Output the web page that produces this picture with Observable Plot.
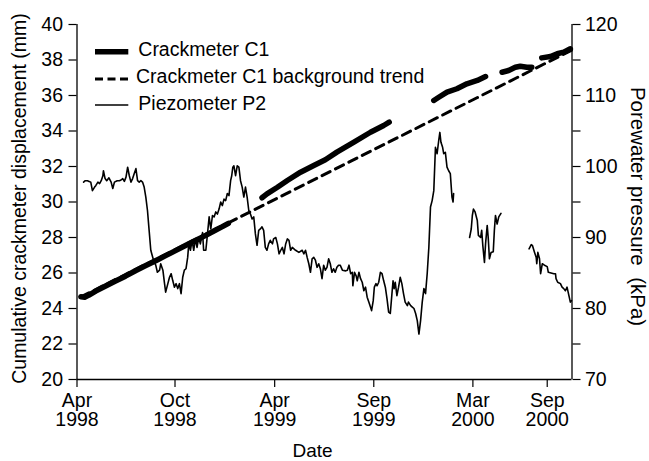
<!DOCTYPE html>
<html>
<head>
<meta charset="utf-8">
<script src="https://cdn.jsdelivr.net/npm/d3@7"></script>
<script src="https://cdn.jsdelivr.net/npm/@observablehq/plot@0.6"></script>
<style>
  html, body { margin: 0; padding: 0; background: #fff; }
  #chart { width: 649px; height: 461px; }
</style>
</head>
<body>
<div id="chart"></div>
<script>
// ---------- DATA ----------
// x values are days since 1 April 1998
const startDay = "1998-04-01";
const xEndDay = 899;
const tickDays = [0, 178, 359, 539, 719, 854];
const tickLabels = ["Apr\n1998", "Oct\n1998", "Apr\n1999", "Sep\n1999", "Mar\n2000", "Sep\n2000"];
const leftTicks = [20, 22, 24, 26, 28, 30, 32, 34, 36, 38, 40];
const rightTicks = [70, 75, 80, 85, 90, 95, 100, 105, 110, 115, 120];
const rightTickLabels = [70, 80, 90, 100, 110, 120];
const legendLabels = ["Crackmeter C1", "Crackmeter C1 background trend", "Piezometer P2"];
const xTitle = "Date";
const leftTitle = "Cumulative crackmeter displacement (mm)";
const rightTitle = "Porewater pressure  (kPa)";

// Crackmeter C1 (mm), segments [day, mm]
const c1Seg1 = [[7,24.66],[14,24.64],[21,24.74],[34,24.98],[52,25.27],[70,25.55],[88,25.82],[107,26.14],[125,26.42],[143,26.69],[161,26.98],[179,27.26],[197,27.55],[215,27.83],[234,28.12],[252,28.42],[264,28.61],[275,28.80]];
const c1Seg2 = [[336,30.24],[345,30.46],[364,30.83],[382,31.21],[406,31.68],[430,32.06],[451,32.38],[472,32.81],[503,33.37],[533,33.93],[557,34.31],[567,34.50]];
const c1Seg3 = [[648,35.72],[657,35.90],[672,36.19],[690,36.38],[708,36.66],[727,36.85],[742,37.07]];
const c1Seg4 = [[772,37.31],[784,37.41],[796,37.59],[805,37.65],[817,37.59],[826,37.59]];
const c1Seg5 = [[844,38.12],[860,38.20],[872,38.35],[884,38.44],[896,38.63]];

// Crackmeter C1 background trend (mm)
const trendPts = [[7,24.65],[898,38.55]];

// Piezometer P2 (kPa), segments [day, kPa]
const p2Seg1 = [[12,97.8],[15,98.0],[19,98.0],[22,97.9],[25,97.8],[28,96.6],[32,97.1],[34,97.3],[38,97.8],[41,97.6],[44,98.0],[47,98.7],[48,99.4],[51,98.3],[54,98.0],[58,98.4],[62,97.8],[65,96.9],[68,97.8],[73,98.0],[77,98.0],[80,98.1],[83,98.3],[86,97.9],[89,98.5],[92,99.9],[95,98.7],[98,97.8],[101,98.3],[104,99.0],[107,99.7],[110,98.0],[113,97.8],[116,98.0],[119,97.8],[122,97.1],[125,95.7],[128,93.8],[131,91.0],[134,88.2],[139,86.8],[143,86.1],[146,85.1],[150,85.4],[152,86.3],[156,85.4],[159,83.5],[161,82.3],[165,83.5],[168,84.4],[171,84.9],[174,83.9],[177,83.0],[180,83.5],[183,82.8],[186,83.5],[189,82.1],[192,84.4],[195,85.4],[198,85.6],[201,87.2],[203,89.1],[206,88.2],[209,89.6],[212,88.2],[215,89.8],[218,88.6],[221,90.0],[224,89.1],[228,90.7],[230,88.2],[234,88.2],[237,90.5],[240,92.9],[243,91.2],[246,93.1],[249,92.9],[252,93.6],[255,93.3],[258,94.0],[261,95.0],[264,94.5],[267,95.4],[270,95.2],[273,96.2],[276,95.9],[279,98.0],[281,98.7],[283,99.9],[285,100.1],[288,98.7],[291,100.1],[294,99.9],[297,98.0],[300,97.1],[303,95.7],[306,97.1],[309,95.7],[312,93.8],[315,93.3],[318,92.6],[321,92.9],[324,90.5],[327,88.9],[330,91.0],[333,91.2],[336,91.5],[339,91.0],[342,88.6],[345,88.2],[348,89.1],[351,89.6],[355,89.1],[357,89.8],[361,90.0],[364,89.1],[367,87.7],[370,88.2],[373,88.6],[376,87.7],[379,89.1],[382,89.8],[385,89.6],[388,88.2],[391,88.6],[397,88.2],[403,87.9],[409,88.2],[412,87.7],[415,88.2],[418,87.2],[421,86.3],[424,85.1],[427,87.0],[430,87.2],[433,86.8],[436,85.8],[439,86.3],[442,85.6],[445,84.2],[448,86.1],[451,85.4],[454,85.8],[457,87.0],[460,86.3],[463,85.1],[466,85.6],[469,85.1],[472,85.8],[475,86.1],[478,86.1],[482,85.4],[488,85.3],[491,85.4],[494,86.1],[497,84.9],[500,85.1],[501,83.2],[504,85.1],[507,84.6],[509,83.9],[512,85.1],[515,84.2],[518,83.7],[521,82.5],[524,83.0],[527,81.6],[530,80.9],[533,80.2],[535,79.7],[538,81.1],[540,83.0],[543,83.5],[545,83.2],[548,83.7],[551,85.1],[554,84.9],[557,83.9],[560,83.0],[563,81.4],[566,79.5],[569,79.3],[572,82.1],[574,83.9],[576,82.8],[578,83.7],[581,81.8],[584,83.0],[587,84.4],[590,83.5],[593,82.1],[596,80.9],[600,80.4],[602,80.9],[606,80.4],[609,80.2],[612,80.0],[615,79.3],[618,78.3],[621,76.4],[624,78.3],[627,80.9],[630,82.8],[633,82.1],[636,84.9],[639,88.6],[642,94.3],[645,95.2],[648,96.6],[651,102.7],[654,101.8],[657,103.7],[659,104.8],[661,103.4],[664,102.7],[666,101.8],[669,102.0],[672,99.9],[675,99.4],[678,99.0],[681,95.7],[683,95.0],[684,96.2]];
const p2Seg2 = [[713,90.0],[716,91.2],[718,93.1],[720,94.0],[723,93.6],[727,92.4],[729,90.3],[733,90.0],[735,91.0],[737,88.9],[740,86.5],[742,89.1],[745,91.7],[747,89.8],[749,87.0],[752,87.9],[756,88.0],[758,91.0],[760,93.1],[763,91.9],[766,92.9],[770,93.4]];
const p2Seg3 = [[821,88.4],[825,89.0],[827,88.9],[831,87.9],[834,87.2],[835,86.3],[837,87.9],[840,87.0],[842,84.9],[845,86.3],[849,86.1],[854,85.9],[856,85.1],[861,85.0],[866,84.9],[869,84.9],[870,84.2],[873,83.7],[878,83.5],[881,83.0],[884,82.8],[887,82.5],[890,83.0],[892,82.3],[894,81.6],[896,80.9],[898,81.1]];

// ---------- BUILD ----------
const t0 = Date.parse(startDay + "T00:00:00Z");
const toDate = d => new Date(t0 + d * 864e5);
const kpaToMM = k => 20 + (k - 70) * 0.4;            // right axis 70..120 kPa -> left 20..40 mm
const mmToKpa = v => Math.round(70 + (v - 20) * 2.5);

const toRows = (segs, conv = v => v) =>
  segs.flatMap((s, i) => s.map(([d, v]) => ({date: toDate(d), y: conv(v), seg: i})));

const c1Rows = toRows([c1Seg1, c1Seg2, c1Seg3, c1Seg4, c1Seg5]);
const trendRows = toRows([trendPts]);
const p2Rows = toRows([p2Seg1, p2Seg2, p2Seg3], kpaToMM);

const tickDates = tickDays.map(toDate);
const tickLabelMap = new Map(tickDates.map((d, i) => [+d, tickLabels[i]]));

const FONT = "Liberation Sans, Arial, Helvetica, sans-serif";

const svg = Plot.plot({
  width: 649,
  height: 461,
  marginTop: 24,
  marginBottom: 82,
  marginLeft: 76.5,
  marginRight: 77.5,
  style: {fontFamily: FONT, fontSize: "19.5px", color: "#000", background: "#fff", overflow: "visible"},
  x: {type: "utc", domain: [toDate(0), toDate(xEndDay)], axis: null},
  y: {domain: [20, 40], axis: null},
  marks: [
    Plot.ruleY([20], {stroke: "#000", strokeWidth: 1.3}),
    Plot.ruleX([toDate(0), toDate(xEndDay)], {stroke: "#000", strokeWidth: 1.3}),
    Plot.axisX({ticks: tickDates, tickSize: 8, tickPadding: 7, tickFormat: d => tickLabelMap.get(+d), lineHeight: 0.93, label: null, stroke: "#000", strokeWidth: 1.2}),
    Plot.axisY({ticks: leftTicks, anchor: "left", tickSize: 8, tickPadding: 6, label: null, stroke: "#000", strokeWidth: 1.2}),
    Plot.axisY({ticks: rightTicks.map(kpaToMM), anchor: "right", tickSize: 8, tickPadding: 5, label: null, stroke: "#000", strokeWidth: 1.2,
      tickFormat: v => { const k = mmToKpa(v); return rightTickLabels.includes(k) ? String(k) : ""; }}),
    Plot.line(trendRows, {x: "date", y: "y", z: "seg", stroke: "#000", strokeWidth: 3, strokeDasharray: "9,6"}),
    Plot.line(c1Rows, {x: "date", y: "y", z: "seg", stroke: "#000", strokeWidth: 5.5, strokeLinejoin: "round"}),
    Plot.line(p2Rows, {x: "date", y: "y", z: "seg", stroke: "#000", strokeWidth: 1.6, strokeLinejoin: "round"})
  ]
});

const g = d3.select(svg).append("g")
  .attr("font-family", FONT)
  .attr("fill", "#000")
  .attr("text-anchor", "start");

// axis titles
g.append("text").attr("transform", "translate(25.5,198.5) rotate(-90)")
  .attr("text-anchor", "middle").attr("font-size", 19.5).text(leftTitle);
g.append("text").attr("transform", "translate(630.5,206.5) rotate(90)")
  .attr("text-anchor", "middle").attr("font-size", 20.5).style("white-space", "pre").text(rightTitle);
g.append("text").attr("x", 312.5).attr("y", 457)
  .attr("text-anchor", "middle").attr("font-size", 19).text(xTitle);

// legend
const legendRows = [
  {y: 51.7, sw: 5.5, dash: null, tx: 138.3, ty: 56},
  {y: 79, sw: 3, dash: "8,4.5", tx: 136, ty: 83},
  {y: 105, sw: 1.6, dash: null, tx: 138.3, ty: 109.5}
];
legendRows.forEach((r, i) => {
  g.append("line").attr("x1", 95).attr("x2", 128.3).attr("y1", r.y).attr("y2", r.y)
    .attr("stroke", "#000").attr("stroke-width", r.sw)
    .attr("stroke-dasharray", r.dash);
  g.append("text").attr("x", r.tx).attr("y", r.ty).attr("text-anchor", "start")
    .attr("font-size", 19.5).text(legendLabels[i]);
});

document.getElementById("chart").appendChild(svg);
</script>
</body>
</html>
